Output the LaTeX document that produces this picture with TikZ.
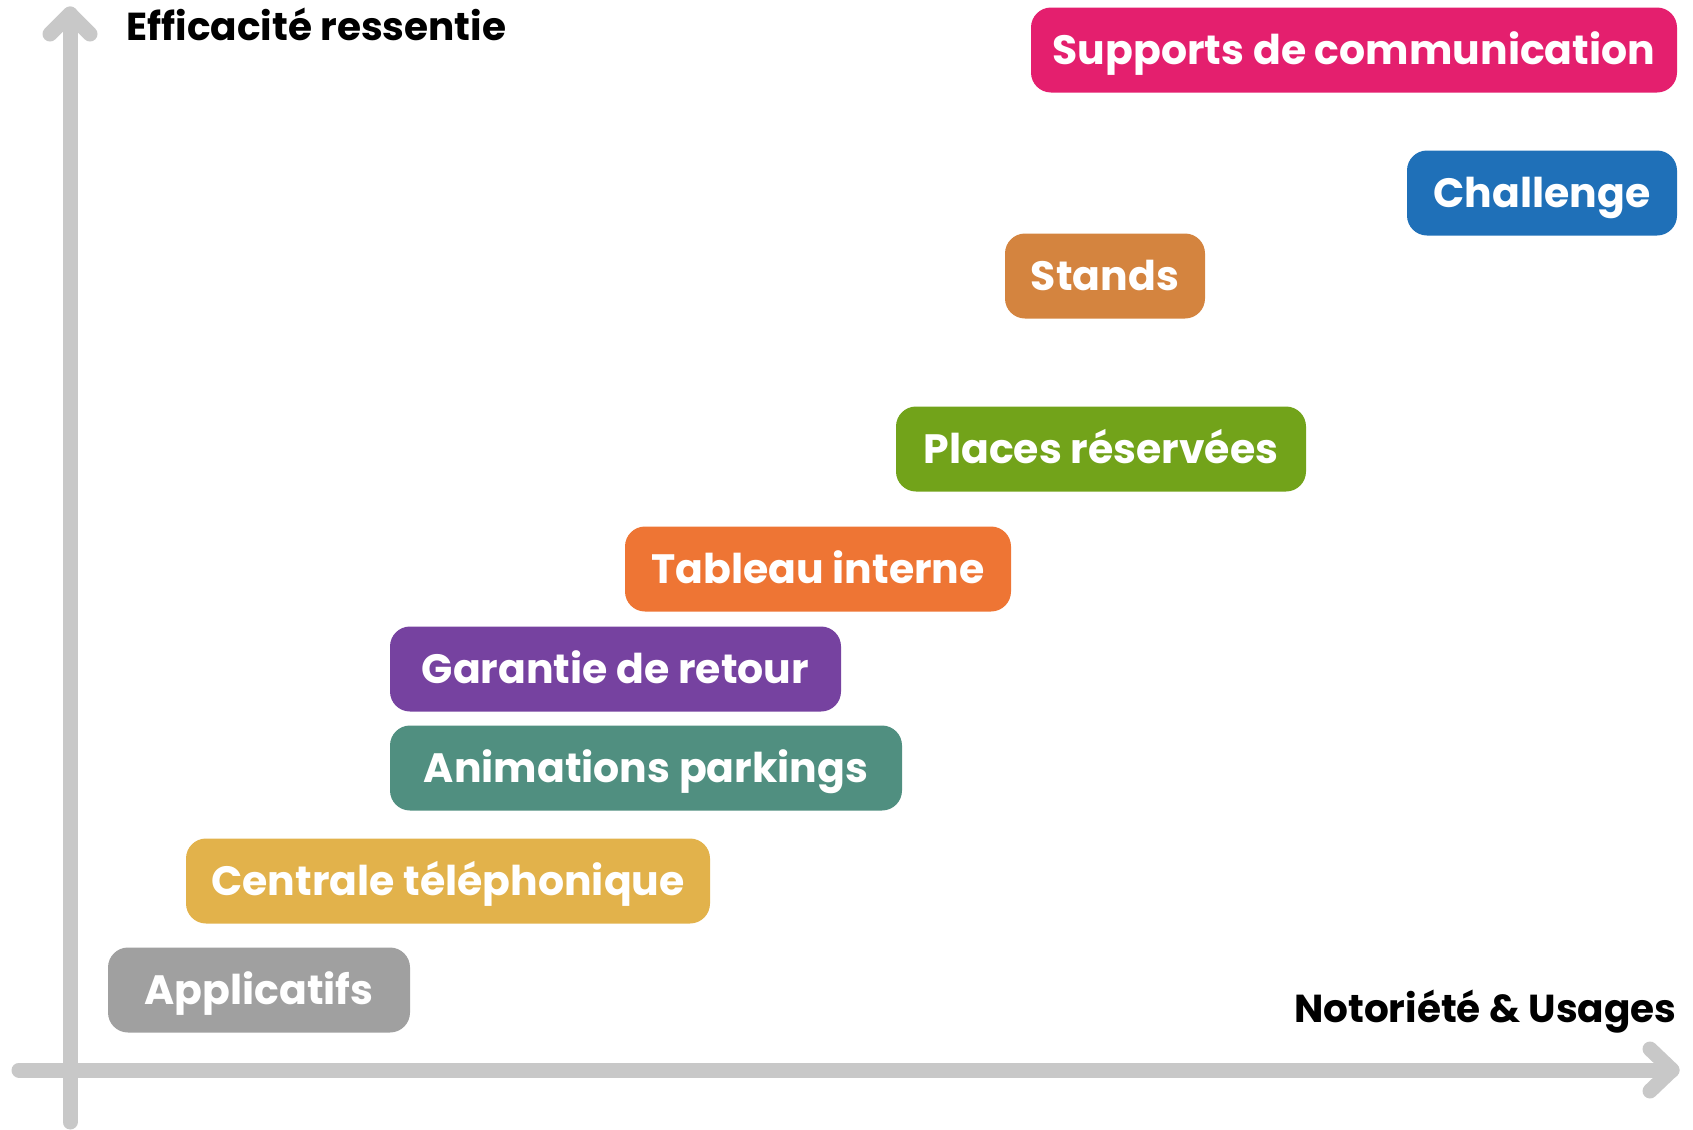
\documentclass[tikz,border=0pt]{standalone}
\usepackage{fontspec}
\setmainfont{Poppins}
\definecolor{axisgray}{HTML}{C8C8C8}
\definecolor{cmag}{HTML}{E41F6E}
\definecolor{cblue}{HTML}{1F70B8}
\definecolor{cbrown}{HTML}{D4843F}
\definecolor{cgreen}{HTML}{72A31A}
\definecolor{corange}{HTML}{EE7534}
\definecolor{cpurple}{HTML}{7642A0}
\definecolor{cteal}{HTML}{508F80}
\definecolor{cyellow}{HTML}{E2B24B}
\definecolor{cgray}{HTML}{A0A0A0}
\begin{document}
\begin{tikzpicture}[x=0.5pt,y=-0.5pt,
  tag/.style={fill=#1, rounded corners=10pt, text=white, font=\fontsize{20.5}{22}\selectfont\bfseries, inner sep=0pt, text height=14.5pt, text depth=0pt, minimum height=42.5pt},
  axislab/.style={text=black, font=\fontsize{19.5}{21}\selectfont\bfseries, inner sep=0pt},
  axisline/.style={draw=axisgray, line width=7.5pt, line cap=round, line join=round}]
\useasboundingbox (0,0) rectangle (1693,1130);
% axes
\coordinate (ybot) at (70,1122);
\coordinate (ytop) at (70,14);
\coordinate (yl) at (50,34);
\coordinate (yr) at (90,34);
\coordinate (xleft) at (19,1070);
\coordinate (xright) at (1672,1070);
\coordinate (xu) at (1650,1049);
\coordinate (xd) at (1650,1091);
\draw[axisline] (ybot) -- (ytop);
\draw[axisline] (yl) -- (ytop) -- (yr);
\draw[axisline] (xleft) -- (xright);
\draw[axisline] (xu) -- (xright) -- (xd);
\node[axislab, anchor=base west] (ylab) at (126,40) {Efficacité ressentie};
\node[axislab, anchor=base east] (xlab) at (1677,1022) {Notoriété \& Usages};
% boxes
\node[tag=cmag, minimum width=323pt] (sup) at (1354,50) {Supports de communication};
\node[tag=cblue, minimum width=135pt] (cha) at (1542,193) {Challenge};
\node[tag=cbrown, minimum width=100pt] (sta) at (1105,276) {Stands};
\node[tag=cgreen, minimum width=205pt] (pla) at (1101,449) {Places réservées};
\node[tag=corange, minimum width=193pt] (tab) at (818,569) {Tableau interne};
\node[tag=cpurple, minimum width=225.5pt] (gar) at (615.5,669) {Garantie de retour};
\node[tag=cteal, minimum width=256pt] (ani) at (646,768) {Animations parkings};
\node[tag=cyellow, minimum width=262pt] (cen) at (448,881) {Centrale téléphonique};
\node[tag=cgray, minimum width=151pt] (app) at (259,990) {Applicatifs};
\end{tikzpicture}
\end{document}
